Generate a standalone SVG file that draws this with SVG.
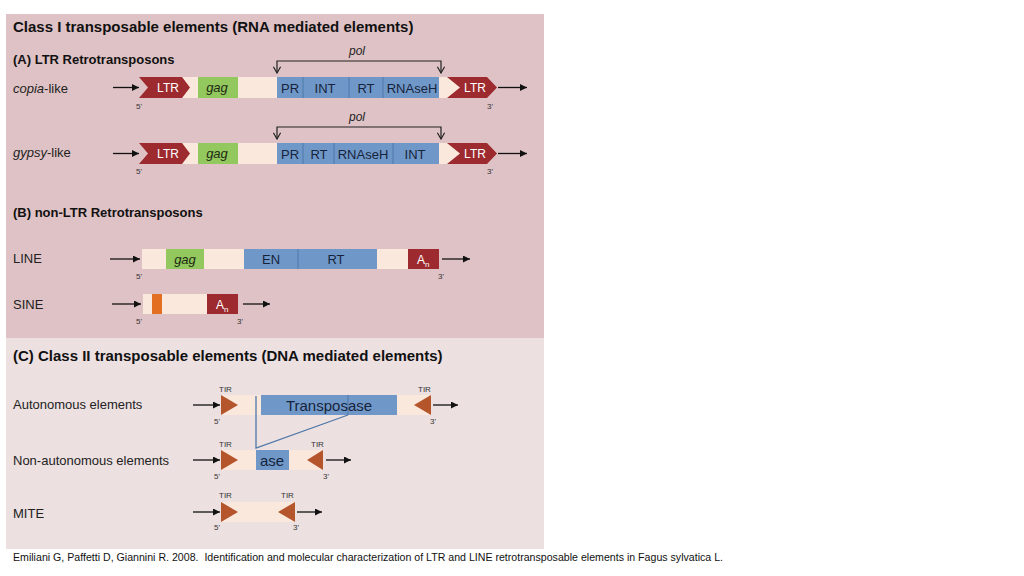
<svg xmlns="http://www.w3.org/2000/svg" width="1024" height="576" viewBox="0 0 1024 576">
<defs>
<marker id="ah" viewBox="0 0 10 10" refX="10" refY="5" markerWidth="7" markerHeight="7" markerUnits="userSpaceOnUse" orient="auto"><path d="M0,0 L10,5 L0,10 z" fill="#111"/></marker>
<marker id="vh" viewBox="0 0 10 10" refX="5" refY="9" markerWidth="9" markerHeight="9" markerUnits="userSpaceOnUse" orient="0"><path d="M1,2 L5,9 L9,2" fill="none" stroke="#222" stroke-width="1.3"/></marker>
<style>
text{font-family:"Liberation Sans",Arial,sans-serif;}
.h1{font-size:15px;font-weight:bold;fill:#111;}
.h2{font-size:13px;font-weight:bold;fill:#111;}
.lab{font-size:13px;fill:#222;}
.cream{fill:#fbe8dd;}
.blue{fill:#6f98c9;}
.green{fill:#93c85e;}
.red{fill:#9c2a2e;}
.tir{fill:#b4552b;}
.div{stroke:#4f78a8;stroke-width:1;}
.bt{font-size:13px;fill:#17233a;text-anchor:middle;}
.gt{font-size:13px;font-style:italic;fill:#1d2a12;text-anchor:middle;}
.wt{font-size:12px;fill:#fff;text-anchor:middle;}
.sm{font-size:8px;fill:#333;}
.arr{stroke:#111;stroke-width:1.3;marker-end:url(#ah);}
.br{fill:none;stroke:#222;stroke-width:1.2;}
</style>
</defs>
<rect x="6" y="14" width="538" height="324" fill="#dfc2c5"/>
<rect x="6" y="338" width="538" height="211" fill="#ede0e1"/>
<text class="h1" x="13" y="32">Class I transposable elements (RNA mediated elements)</text>
<text class="h2" x="13" y="64">(A) LTR Retrotransposons</text>
<text class="h2" x="13" y="217">(B) non-LTR Retrotransposons</text>
<text class="h1" x="13" y="361">(C) Class II transposable elements (DNA mediated elements)</text>

<g id="copia">
<text class="lab" x="13" y="93"><tspan font-style="italic">copia</tspan>-like</text>
<rect class="cream" x="160" y="77" width="300" height="21"/>
<polygon class="red" points="139,77 182,77 190,87.5 182,98 139,98 148,87.5"/>
<text class="wt" x="168" y="92">LTR</text>
<rect class="green" x="198" y="77" width="40" height="21"/>
<text class="gt" x="217" y="92">gag</text>
<rect class="blue" x="277" y="77" width="162" height="21"/>
<line class="div" x1="303" y1="77" x2="303" y2="98"/>
<line class="div" x1="349" y1="77" x2="349" y2="98"/>
<line class="div" x1="383" y1="77" x2="383" y2="98"/>
<text class="bt" x="290" y="93">PR</text>
<text class="bt" x="325" y="93">INT</text>
<text class="bt" x="366" y="93">RT</text>
<text class="bt" x="412" y="93">RNAseH</text>
<polygon class="red" points="447,77 487,77 497,87.5 487,98 447,98 460,87.5"/>
<text class="wt" x="475" y="92">LTR</text>
<text class="sm" x="136" y="109">5'</text>
<text class="sm" x="487" y="109">3'</text>
<path class="br" d="M277,73 V61 H441 V73" marker-start="url(#vh)" marker-end="url(#vh)"/>
<text x="357" y="55" font-size="12" font-style="italic" fill="#222" text-anchor="middle">pol</text>
</g>

<g id="gypsy">
<text class="lab" x="13" y="157"><tspan font-style="italic">gypsy</tspan>-like</text>
<rect class="cream" x="160" y="143" width="300" height="21"/>
<polygon class="red" points="139,143 182,143 190,153.5 182,164 139,164 148,153.5"/>
<text class="wt" x="168" y="158">LTR</text>
<rect class="green" x="198" y="143" width="40" height="21"/>
<text class="gt" x="217" y="158">gag</text>
<rect class="blue" x="277" y="143" width="162" height="21"/>
<line class="div" x1="303" y1="143" x2="303" y2="164"/>
<line class="div" x1="334" y1="143" x2="334" y2="164"/>
<line class="div" x1="393" y1="143" x2="393" y2="164"/>
<text class="bt" x="290" y="159">PR</text>
<text class="bt" x="319" y="159">RT</text>
<text class="bt" x="363" y="159">RNAseH</text>
<text class="bt" x="415" y="159">INT</text>
<polygon class="red" points="447,143 487,143 497,153.5 487,164 447,164 460,153.5"/>
<text class="wt" x="475" y="158">LTR</text>
<text class="sm" x="136" y="174">5'</text>
<text class="sm" x="487" y="174">3'</text>
<path class="br" d="M277,139 V127 H441 V139" marker-start="url(#vh)" marker-end="url(#vh)"/>
<text x="357" y="121" font-size="12" font-style="italic" fill="#222" text-anchor="middle">pol</text>
</g>

<g id="line">
<text class="lab" x="13" y="263">LINE</text>
<rect class="cream" x="142" y="249" width="266" height="20"/>
<rect class="green" x="166" y="249" width="38" height="20"/>
<text class="gt" x="185" y="264">gag</text>
<rect class="blue" x="244" y="249" width="133" height="20"/>
<line class="div" x1="298" y1="249" x2="298" y2="269"/>
<text class="bt" x="271" y="264">EN</text>
<text class="bt" x="336" y="264">RT</text>
<rect class="red" x="408" y="249" width="31" height="20"/>
<text x="417" y="264" font-size="12" fill="#fff">A<tspan font-size="8" dy="3">n</tspan></text>
<text class="sm" x="136" y="279">5'</text>
<text class="sm" x="438" y="279">3'</text>
</g>

<g id="sine">
<text class="lab" x="13" y="309">SINE</text>
<rect class="cream" x="143" y="294" width="95" height="20"/>
<rect x="152" y="294" width="10" height="20" fill="#e26f22"/>
<rect class="red" x="207" y="294" width="31" height="20"/>
<text x="216" y="309" font-size="12" fill="#fff">A<tspan font-size="8" dy="3">n</tspan></text>
<text class="sm" x="136" y="324">5'</text>
<text class="sm" x="237" y="324">3'</text>
</g>

<g id="autonomous">
<text class="lab" x="13" y="409">Autonomous elements</text>
<rect class="cream" x="221" y="395" width="210" height="20"/>
<polygon class="tir" points="221,395 238,405 221,415"/>
<rect class="blue" x="261" y="395" width="136" height="20"/>
<line class="div" x1="348" y1="395" x2="348" y2="415"/>
<text x="329" y="411" font-size="15" fill="#17233a" text-anchor="middle">Transposase</text>
<polygon class="tir" points="431,395 414,405 431,415"/>
<text class="sm" x="219" y="392">TIR</text>
<text class="sm" x="418" y="392">TIR</text>
<text class="sm" x="214" y="424">5'</text>
<text class="sm" x="430" y="424">3'</text>
</g>

<g id="nonautonomous">
<text class="lab" x="13" y="465">Non-autonomous elements</text>
<rect class="cream" x="221" y="450" width="102" height="20"/>
<polygon class="tir" points="221,450 238,460 221,470"/>
<rect class="blue" x="256" y="450" width="33" height="20"/>
<text x="272" y="466" font-size="15" fill="#17233a" text-anchor="middle">ase</text>
<polygon class="tir" points="323,450 307,460 323,470"/>
<text class="sm" x="219" y="447">TIR</text>
<text class="sm" x="311" y="447">TIR</text>
<text class="sm" x="214" y="479">5'</text>
<text class="sm" x="323" y="479">3'</text>
</g>

<g id="mite">
<text class="lab" x="13" y="518">MITE</text>
<rect class="cream" x="221" y="502" width="74" height="20"/>
<polygon class="tir" points="221,502 238,512 221,522"/>
<polygon class="tir" points="295,502 278,512 295,522"/>
<text class="sm" x="219" y="498">TIR</text>
<text class="sm" x="281" y="498">TIR</text>
<text class="sm" x="214" y="530">5'</text>
<text class="sm" x="293" y="530">3'</text>
</g>

<g id="connectors">
<line class="arr" x1="113" y1="87.5" x2="139" y2="87.5"/>
<line class="arr" x1="498" y1="87.5" x2="527" y2="87.5"/>
<line class="arr" x1="113" y1="153.5" x2="139" y2="153.5"/>
<line class="arr" x1="498" y1="153.5" x2="527" y2="153.5"/>
<line class="arr" x1="110" y1="259" x2="140" y2="259"/>
<line class="arr" x1="442" y1="259" x2="470" y2="259"/>
<line class="arr" x1="112" y1="304" x2="141" y2="304"/>
<line class="arr" x1="243" y1="304" x2="270" y2="304"/>
<line class="arr" x1="193" y1="405" x2="220" y2="405"/>
<line class="arr" x1="433" y1="405" x2="458" y2="405"/>
<line class="arr" x1="193" y1="460" x2="220" y2="460"/>
<line class="arr" x1="326" y1="460" x2="351" y2="460"/>
<line class="arr" x1="193" y1="512" x2="220" y2="512"/>
<line class="arr" x1="297" y1="512" x2="322" y2="512"/>
<polyline points="256,396 256,448 348,415" fill="none" stroke="#4f78a8" stroke-width="1.3"/>
</g>

<text x="13" y="561" font-family="'Open Sans',sans-serif" font-size="10" fill="#111" textLength="710" lengthAdjust="spacingAndGlyphs" xml:space="preserve">Emiliani G, Paffetti D, Giannini R. 2008.  Identification and molecular characterization of LTR and LINE retrotransposable elements in Fagus sylvatica L.</text>
</svg>
